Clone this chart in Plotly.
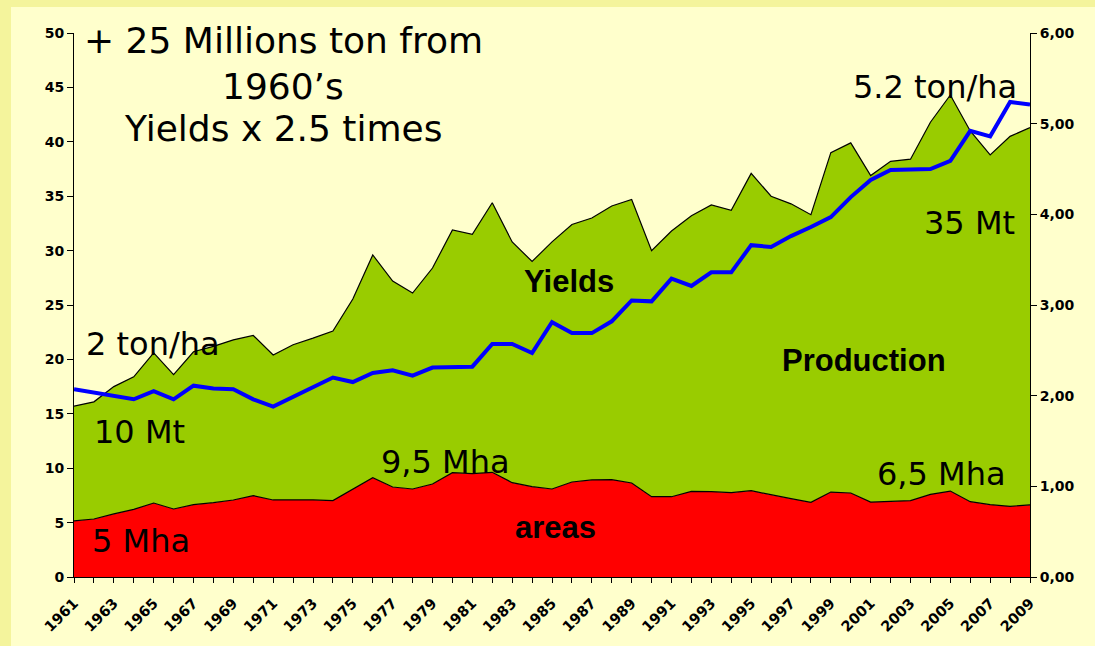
import plotly.graph_objects as go

years = list(range(1961, 2010))

# harvested area (Mha)
area_mha = [5.15, 5.33, 5.80, 6.22, 6.80, 6.25, 6.65, 6.83, 7.08, 7.48,
            7.08, 7.10, 7.08, 7.02, 8.06, 9.13, 8.27, 8.09, 8.55, 9.59,
            9.50, 9.62, 8.67, 8.30, 8.09, 8.73, 8.92, 8.95, 8.64, 7.38,
            7.38, 7.87, 7.84, 7.75, 7.93, 7.54, 7.20, 6.86, 7.81, 7.72,
            6.89, 6.95, 7.02, 7.60, 7.90, 6.92, 6.65, 6.50, 6.62]

# production (Mt), stacked on top of area
production_mt = [10.55, 10.77, 11.70, 12.18, 13.80, 12.35, 14.05, 14.37, 14.72, 14.72,
                 13.32, 14.25, 14.87, 15.58, 17.49, 20.47, 18.93, 18.01, 19.85, 22.31,
                 22.00, 24.78, 22.13, 20.70, 22.71, 23.67, 24.08, 25.15, 26.06, 22.62,
                 24.42, 25.33, 26.36, 25.95, 29.17, 27.46, 27.10, 26.44, 31.19, 32.18,
                 30.01, 31.25, 31.38, 34.20, 36.40, 34.08, 32.15, 34.00, 34.68]

# yields (t/ha), right axis
yield_tha = [2.07, 2.03, 2.00, 1.96, 2.05, 1.96, 2.11, 2.08, 2.07, 1.96,
             1.88, 1.99, 2.10, 2.20, 2.15, 2.25, 2.28, 2.22, 2.31, 2.31,
             2.32, 2.57, 2.57, 2.47, 2.81, 2.69, 2.69, 2.82, 3.05, 3.04,
             3.29, 3.21, 3.36, 3.36, 3.66, 3.64, 3.76, 3.86, 3.97, 4.19,
             4.38, 4.49, 4.49, 4.50, 4.59, 4.92, 4.86, 5.24, 5.21]

tick_text = [str(y) if (y - 1961) % 2 == 0 else "" for y in years]

W, H = 1095, 646
L, R, T, B = 74, 65, 33, 69
PW, PH = W - L - R, H - T - B

def px(xp):
    return (xp - L) / PW

def py(yp):
    return (H - B - yp) / PH

OUTER = "#F4F49C"
INNER = "#FFFFCC"

fig = go.Figure()
fig.add_trace(go.Scatter(x=years, y=area_mha, stackgroup="one", mode="lines",
                         line=dict(color="black", width=1.2), fillcolor="#FF0000",
                         name="areas", hoverinfo="skip"))
fig.add_trace(go.Scatter(x=years, y=production_mt, stackgroup="one", mode="lines",
                         line=dict(color="black", width=1.2), fillcolor="#99CC00",
                         name="Production", hoverinfo="skip"))
fig.add_trace(go.Scatter(x=years, y=yield_tha, yaxis="y2", mode="lines",
                         line=dict(color="#0000FF", width=4), name="Yields",
                         hoverinfo="skip"))

tickfont = dict(family="DejaVu Sans", size=14, color="black", weight="bold")
xtickfont = dict(family="DejaVu Sans", size=14.5, color="black", weight="bold")

fig.update_layout(
    width=W, height=H,
    margin=dict(l=L, r=R, t=T, b=B),
    paper_bgcolor=INNER,
    plot_bgcolor=INNER,
    showlegend=False,
    separators=",.",
    xaxis=dict(range=[1961, 2009], tickmode="array", tickvals=years, ticktext=tick_text,
               tickangle=-45, ticks="outside", ticklen=5, tickcolor="black",
               showline=True, linecolor="black", linewidth=1, showgrid=False,
               zeroline=False, tickfont=xtickfont, automargin=False,
               ticklabelstandoff=6),
    yaxis=dict(range=[0, 50], dtick=5, ticks="outside", ticklen=6, tickcolor="black",
               showline=True, linecolor="black", linewidth=1, showgrid=False,
               zeroline=False, tickfont=tickfont, automargin=False),
    yaxis2=dict(range=[0, 6], dtick=1, tickformat=".2f", overlaying="y", side="right",
                ticks="outside", ticklen=6, tickcolor="black", showline=True,
                linecolor="black", linewidth=1, showgrid=False, zeroline=False,
                tickfont=tickfont, automargin=False),
)

# outer frame strips
fig.add_shape(type="rect", xref="paper", yref="paper", x0=px(0), x1=px(11),
              y0=py(H), y1=py(0), fillcolor=OUTER, line_width=0, layer="below")
fig.add_shape(type="rect", xref="paper", yref="paper", x0=px(0), x1=px(W),
              y0=py(7), y1=py(0), fillcolor=OUTER, line_width=0, layer="below")

big = dict(family="DejaVu Sans", size=32, color="black")
title_font = dict(family="DejaVu Sans", size=36, color="black")
bold = dict(family="Liberation Sans, Arial", size=31, color="black", weight="bold")

def ann(text, x, y, font, xanchor="center"):
    fig.add_annotation(text=text, xref="paper", yref="paper", x=px(x), y=py(y),
                       xanchor=xanchor, yanchor="middle", showarrow=False, font=font)

ann("+ 25 Millions ton from", 283, 41, title_font)
ann("1960’s", 283, 86, title_font)
ann("Yields x 2.5 times", 283, 128, title_font)
ann("5.2 ton/ha", 1019, 87, big, "right")
ann("2 ton/ha", 84, 344, big, "left")
ann("10 Mt", 92, 432, big, "left")
ann("5 Mha", 90, 541, big, "left")
ann("9,5 Mha", 379, 462, big, "left")
ann("6,5 Mha", 1008, 474, big, "right")
ann("35 Mt", 1017, 223, big, "right")
ann("Yields", 569, 281, bold)
ann("Production", 864, 360, bold)
ann("areas", 555, 527, bold)

fig.write_html("out.html",
               config={"displayModeBar": False},
               post_script="document.body.style.margin='0';document.body.style.overflow='hidden';")
